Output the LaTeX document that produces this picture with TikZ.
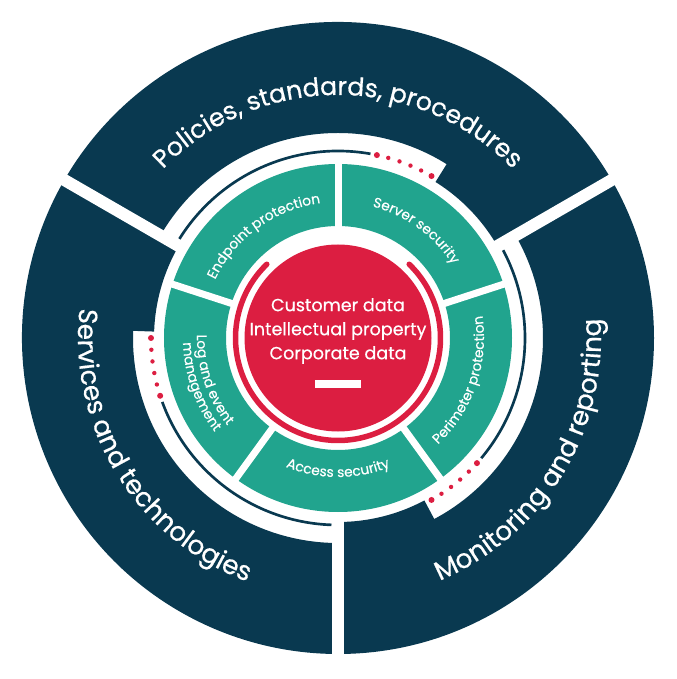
\documentclass[tikz,border=0pt]{standalone}
\usepackage{fontspec}
\setmainfont{Poppins}
\newfontfamily\heavyfont{Poppins}[FakeBold=0.6]
\newfontfamily\midfont{Poppins}[FakeBold=0.4]
\usetikzlibrary{decorations.text}
\definecolor{navy}{RGB}{9,57,80}
\definecolor{jade}{RGB}{33,164,142}
\definecolor{crimson}{RGB}{220,30,65}
\newcommand\bigfont{\heavyfont\fontsize{22.5}{27}\selectfont}
\newcommand\topfont{\heavyfont\fontsize{21.5}{26}\selectfont}
\newcommand\ringfont{\midfont\fontsize{11.8}{14}\selectfont}
\begin{document}
\begin{tikzpicture}[x=0.3mm,y=0.3mm,
  cut/.style={white,line width=3.6mm},
  slit/.style={white,line width=2.1mm},
  track/.style={navy,line width=0.8mm},
  bigtext/.style={decorate,decoration={text along path,text align=center,text color=white,text={|\bigfont|#1}}},
  toptext/.style={decorate,decoration={text along path,text align=center,text color=white,text={|\topfont|#1}}},
  ringtext/.style={decorate,decoration={text along path,text align=center,text color=white,text={|\ringfont|#1}}}]
\useasboundingbox (-338,-341) rectangle (338,338);
\fill[navy] (30:316) arc[start angle=30,end angle=150,radius=316] -- (150:205) arc[start angle=150,end angle=58,radius=205] -- (58:184) arc[start angle=58,end angle=30,radius=184] -- cycle;
\fill[navy] (150:316) arc[start angle=150,end angle=270,radius=316] -- (270:205) arc[start angle=270,end angle=178,radius=205] -- (178:184) arc[start angle=178,end angle=150,radius=184] -- cycle;
\fill[navy] (270:316) arc[start angle=270,end angle=390,radius=316] -- (390:205) arc[start angle=390,end angle=298,radius=205] -- (298:184) arc[start angle=298,end angle=270,radius=184] -- cycle;
\draw[cut] (30:176) -- (30:330);
\draw[cut] (150:176) -- (150:330);
\draw[cut] (270:176) -- (270:330);
\draw[track] (80:187) arc[start angle=80,end angle=148,radius=187];
\draw[track] (200:187) arc[start angle=200,end angle=268,radius=187];
\draw[track] (320:187) arc[start angle=320,end angle=388,radius=187];
\foreach \a in {30,150,270}{
  \fill[crimson] ({\a+30}:187) circle[radius=3];
  \fill[crimson] ({\a+48}:187) circle[radius=3];
  \foreach \k in {1,...,4}
    \fill[crimson] ({\a+30+3.6*\k}:187) circle[radius=2.2];
}
\path[toptext={Policies, standards, procedures}] (150:243) arc[start angle=150,end angle=30,radius=243];
\path[bigtext={Services and technologies}] (152:260) arc[start angle=152,end angle=271,radius=260];
\path[bigtext={Monitoring and reporting}] (268.5:263) arc[start angle=268.5,end angle=388.5,radius=263];
\fill[jade,even odd rule] (0,0) circle[radius=174] (0,0) circle[radius=112];
\draw[slit] (18:108) -- (18:178);
\draw[slit] (90:108) -- (90:178);
\draw[slit] (162:108) -- (162:178);
\draw[slit] (234:108) -- (234:178);
\draw[slit] (306:108) -- (306:178);
\path[ringtext={Endpoint protection}] (162:136) arc[start angle=162,end angle=90,radius=136];
\path[ringtext={Server security}] (90:136) arc[start angle=90,end angle=18,radius=136];
\path[ringtext={Perimeter protection}] (-55:146) arc[start angle=-55,end angle=17,radius=146];
\path[ringtext={Access security}] (234:139) arc[start angle=234,end angle=306,radius=139];
\path[ringtext={Log and event}] (162:141) arc[start angle=162,end angle=235,radius=141];
\path[ringtext={management}] (162:155) arc[start angle=162,end angle=237,radius=155];
\draw[crimson,line width=1.65mm,line cap=round] (134:102.5) arc[start angle=134,end angle=406,radius=102.5];
\fill[crimson] (0,0) circle[radius=93.5];
\node[text=white,align=center,font=\midfont\fontsize{15}{20.5}\selectfont] (core) at (0,7) {Customer data\\Intellectual property\\Corporate data};
\fill[white] (-23,-42) rectangle (23,-50);
\end{tikzpicture}
\end{document}
